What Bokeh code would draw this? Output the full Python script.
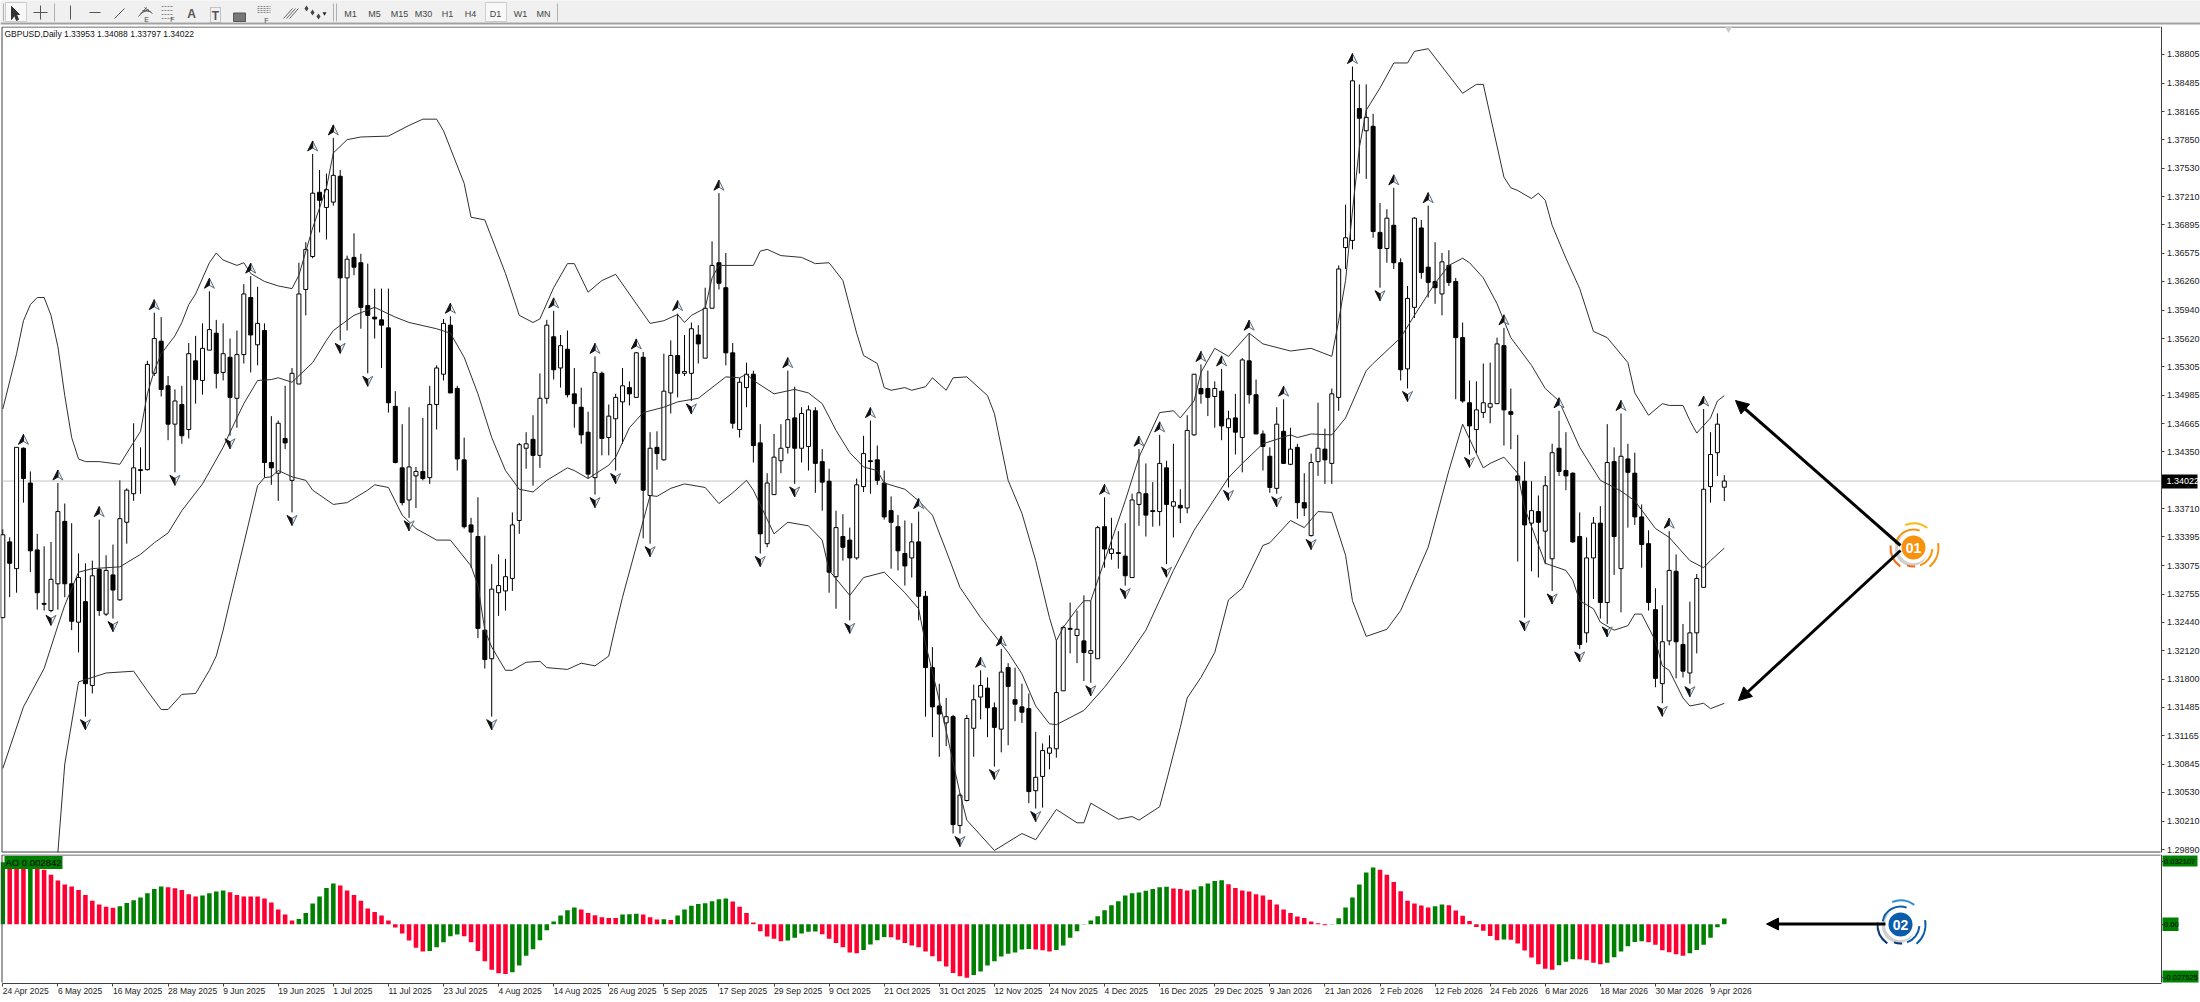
from bokeh.plotting import figure
from bokeh.layouts import column
from bokeh.embed import file_html
from bokeh.resources import INLINE
from bokeh.core.properties import value
from bokeh.models import (Range1d, FixedTicker, NumeralTickFormatter, LinearAxis, Label, Arrow, NormalHead, Div)

# ---------------- data: prices in pips above 1.30000, AO in pips ----------------
high_pips = [348,339,440,440,413,343,329,334,400,377,
355,321,310,313,359,319,331,403,394,467,
440,537,591,586,520,505,509,557,565,579,
615,583,579,562,571,623,632,620,579,475,
470,509,529,647,670,769,751,747,787,751,
655,680,657,646,618,618,618,503,466,485,
418,473,509,532,584,587,509,451,361,384,
341,309,320,315,367,445,457,476,523,583,
593,566,571,529,507,480,542,525,488,500,
529,514,547,547,457,458,545,560,590,566,
580,577,619,671,725,658,557,518,535,526,
466,411,455,466,526,508,485,487,485,438,
416,369,365,350,405,453,470,442,414,385,
364,358,355,368,279,216,175,159,140,52,
140,174,190,182,154,214,198,193,175,164,
121,108,117,223,240,266,257,274,268,352,
384,361,346,355,388,438,422,401,454,425,
444,393,476,522,533,526,514,528,481,500,
540,568,516,459,440,485,494,462,444,411,
433,490,461,506,644,712,867,847,847,814,
714,707,731,652,621,698,695,711,670,658,
661,630,580,515,514,534,535,563,574,506,
454,424,402,386,408,444,481,457,412,367,
339,362,374,466,440,478,444,434,376,347,
282,263,346,320,242,267,298,483,457,478,
408.8]
low_pips = [249,272,277,378,300,258,257,255,258,272,
235,210,138,164,251,251,248,268,332,380,
388,414,520,497,448,412,444,450,489,499,
549,506,515,453,462,534,524,532,406,398,
380,438,367,511,588,652,681,673,711,560,
571,633,573,523,562,529,479,422,375,361,
372,403,399,460,515,501,414,349,305,226,
192,138,251,257,279,343,416,397,417,489,
516,507,496,462,444,405,387,431,431,414,
444,487,496,338,332,415,425,478,496,520,
492,534,540,596,617,532,461,451,485,423,
321,328,387,411,433,399,423,414,389,369,
277,259,313,246,314,390,388,398,359,304,
302,285,294,246,138,115,93,105,7,7,
43,93,135,115,82,98,106,133,131,41,
35,36,79,92,167,209,198,178,176,203,
305,314,304,285,294,352,340,351,352,309,
339,355,366,453,489,475,462,448,395,432,
412,489,455,414,389,388,422,420,360,363,
340,408,399,399,481,640,662,747,741,675,
619,647,640,515,506,585,629,608,601,588,
621,494,490,432,433,473,467,489,442,438,
312,249,301,294,309,279,408,392,333,214,
221,270,248,242,297,255,350,353,305,257,
171,153,218,181,182,175,209,283,378,408,
379.7]
open_pips = [249,334,304,439,400,325,265,257,287,357,
287,244,267,173,303,253,297,269,356,388,
415,415,523,559,509,466,488,460,537,515,
549,568,524,541,495,544,608,555,571,423,
411,450,403,511,617,654,726,709,715,744,
630,653,647,599,586,583,574,486,417,381,
408,413,406,488,522,577,506,426,353,340,
235,203,277,279,293,358,439,449,431,495,
564,529,550,500,485,457,406,523,451,472,
491,507,496,541,386,440,426,501,543,523,
523,566,540,596,647,619,546,460,507,522,
445,332,387,425,440,473,439,441,481,424,
402,295,340,336,316,396,425,426,400,369,
351,321,316,334,273,193,150,131,138,16,
44,125,160,170,148,124,193,157,149,147,
55,71,97,102,167,237,229,223,209,203,
351,321,322,318,294,376,388,369,368,417,
374,375,372,454,506,506,497,503,462,473,
451,537,499,455,430,394,458,421,440,378,
341,424,438,422,496,664,672,820,795,800,
681,663,689,647,528,597,686,642,626,612,
644,626,563,490,460,479,485,489,554,480,
408,402,355,368,346,315,439,414,411,340,
232,316,355,266,424,304,427,411,362,332,
258,175,223,301,219,187,232,283,396,434,
395.3]
close_pips = [342,310,440,405,324,277,264,292,368,287,
245,294,175,296,257,302,280,360,392,417,
414,533,562,505,466,492,453,545,516,551,
572,523,545,496,544,612,566,579,423,417,
467,445,523,612,662,725,717,729,745,630,
651,642,597,588,584,577,490,423,378,418,
413,405,488,529,579,501,427,351,345,237,
202,281,285,295,353,443,444,431,495,577,
527,554,499,489,454,410,524,450,475,496,
509,500,546,392,439,433,503,543,523,525,
573,556,596,644,624,546,467,513,522,442,
343,400,429,439,471,439,478,482,422,401,
300,350,328,316,398,433,424,403,362,356,
324,307,334,273,193,149,141,138,17,50,
136,157,173,148,126,188,172,152,143,54,
70,100,103,165,238,236,236,210,212,350,
326,326,321,296,381,389,364,368,422,376,
379,372,459,522,500,496,506,464,472,457,
538,499,455,441,395,466,422,438,378,372,
423,439,426,500,640,675,851,809,810,682,
663,697,647,527,607,697,636,625,619,648,
625,563,492,464,482,490,489,556,482,477,
403,353,369,356,397,434,413,408,334,219,
316,355,266,423,340,430,412,362,331,266,
181,222,302,222,189,232,293,393,432,466,
402.2]

upper_band = [(0,483),(2,545),(3,582),(4,600),(5,608),(6,608),(7,588),(8,553),(9,498),(10,451),(11,427),(12,424),(14,424),(17,421),
(20,458),(21,500),(22,526),(23,545),(24,555),(25,565),(26,580),(27,600),(28,612),(30,647),(31,658),(32,650),(34,644),(35,647),(36,635),
(38,626),(40,621),(42,618),(43,633),(45,686),(47,731),(48,770),(50,785),(52,788),(56,789),(59,801),(61,808),(63,808),(64,795),(67,736),
(68,698),(70,695),(73,635),(75,588),(77,580),(78,584),(80,619),(82,646),(83,646),(85,614),(87,627),(89,634),(91,612),(94,579),(96,582),
(98,589),(99,580),(100,588),(102,596),(103,630),(104,644),(109,644),(110,660),(111,662),(113,655),(116,653),(118,646),(120,647),(122,627),
(124,568),(125,543),(127,534),(128,507),(129,504),(131,507),(132,504),(134,508),(135,518),(137,504),(138,518),(140,519),(143,498),(144,478),
(146,403),(148,366),(150,313),(152,249),(153,223),(154,238),(156,259),(157,268),(158,268),(160,313),(163,380),(165,429),(168,479),(170,481),
(171,473),(173,492),(174,524),(176,551),(178,542),(181,568),(183,556),(187,548),(190,551),(193,542),(194,582),(195,627),(196,705),(197,776),
(198,818),(200,843),(202,871),(204,871),(205,884),(207,887),(212,837),(214,847),(215,847),(218,743),(219,731),(220,728),(222,719),(223,725),
(224,717),(225,689),(227,652),(229,618),(231,570),(233,563),(236,535),(237,501),(239,476),(241,489),(242,487),(244,487),(245,470),(246,456),
(248,473),(249,492),(250,498)]
middle_band = [(0,80),(3,149),(6,192),(8,240),(9,263),(11,300),(13,304),(17,306),(20,320),(22,333),(24,344),(26,369),(29,399),(32,440),(33,457),
(35,489),(37,515),(39,516),(40,518),(42,513),(45,535),(47,560),(48,571),(51,588),(54,597),(57,586),(59,580),(63,573),(65,568),(67,541),
(69,500),(71,451),(73,414),(75,393),(77,390),(79,403),(82,417),(83,414),(85,405),(88,420),(89,429),(91,462),(93,479),(96,485),(98,491),
(101,495),(103,507),(105,519),(107,518),(108,522),(109,515),(112,500),(115,505),(117,501),(119,489),(121,459),(123,434),(125,418),(127,414),
(128,400),(131,393),(133,380),(135,364),(137,324),(139,283),(142,249),(146,210),(148,186),(150,150),(152,130),(153,129),(157,145),(160,171),
(163,201),(166,235),(170,302),(173,347),(178,406),(180,422),(183,444),(187,454),(188,451),(190,455),(193,454),(195,473),(198,526),(199,534),
(203,563),(205,588),(208,624),(210,644),(212,652),(213,647),(215,630),(217,601),(219,563),(222,532),(224,506),(226,492),(229,440),(232,403),
(235,391),(237,380),(240,349),(242,339),(245,313),(247,305),(248,313),(250,327)]
lower_band = [(8,-14),(9,85),(11,177),(15,187),(19,189),(21,167),(23,146),(24,146),(26,163),(28,164),(30,190),(31,206),(32,235),(33,268),
(35,332),(37,397),(38,406),(39,407),(40,414),(42,407),(44,403),(45,392),(48,376),(50,378),(53,392),(54,398),(56,395),(58,364),(60,349),
(63,336),(65,336),(68,307),(69,285),(70,235),(71,216),(73,190),(74,190),(76,199),(78,200),(79,193),(82,191),(84,198),(86,195),(88,206),
(89,240),(90,272),(94,386),(95,385),(97,394),(99,399),(102,395),(103,386),(104,377),(106,389),(108,403),(109,392),(112,343),(114,356),
(117,352),(119,336),(120,302),(123,274),(125,294),(128,300),(131,277),(133,259),(134,220),(136,156),(137,122),(139,52),(140,22),(144,-12),
(148,7),(150,0),(153,34),(156,19),(157,19),(158,41),(162,23),(164,26),(165,22),(168,37),(169,66),(171,126),(172,159),(174,182),(176,210),
(178,269),(180,282),(183,330),(184,333),(187,358),(189,350),(191,368),(193,367),(195,319),(196,268),(198,228),(201,236),(203,257),(207,328),
(210,414),(212,466),(214,433),(215,417),(216,422),(218,429),(220,411),(221,372),(224,310),(227,302),(228,291),(229,268),(231,259),(232,244),
(234,235),(236,240),(237,253),(238,253),(240,223),(241,195),(242,190),(244,159),(245,150),(247,153),(248,147),(250,153)]

ao_pips = [318,313,308,304,318,301,279,253,224,203,193,176,150,120,101,89,84,92,109,123,137,159,181,193,190,185,176,154,142,147,159,168,173,164,150,142,142,142,132,111,75,50,19,27,58,106,142,186,209,198,173,150,120,80,63,44,19,-17,-48,-84,-121,-140,-137,-118,-92,-62,-53,-62,-92,-137,-190,-233,-251,-255,-246,-212,-162,-128,-82,-31,14,44,72,86,75,58,46,36,32,32,50,51,53,50,36,24,26,21,44,75,94,103,108,118,128,132,
116,89,58,9,-36,-63,-74,-87,-84,-70,-48,-39,-38,-51,-75,-97,-118,-145,-149,-132,-104,-82,-65,-67,-80,-97,-109,-118,-140,-164,-190,-217,-250,-267,-274,-260,-243,-212,-190,-166,-152,-145,-130,-127,-130,-133,-140,-132,-109,-70,-36,-2,19,41,72,97,118,147,159,162,171,181,190,192,183,180,173,178,195,209,221,226,205,186,173,168,154,147,125,101,75,58,39,32,14,5,-5,-2,31,86,137,203,265,291,279,253,217,169,120,106,96,86,92,101,97,70,43,17,-14,-34,-60,-82,-79,-80,-99,-135,-171,-205,-229,-233,-210,-193,-180,-180,-185,-198,-205,-198,-169,-140,-113,-91,-87,-92,-106,-133,-144,-154,-162,-149,-132,-106,-70,-15,29]

up_fractals = [3,8,14,22,30,36,45,48,65,80,86,92,98,104,114,126,133,142,145,160,165,168,174,177,181,186,196,202,207,218,226,235,242,247]
down_fractals = [7,12,16,25,33,42,49,53,59,71,86,89,94,100,110,115,123,139,144,150,158,163,169,178,185,190,200,204,213,221,225,229,233,241,245]

date_labels = ["24 Apr 2025","6 May 2025","16 May 2025","28 May 2025","9 Jun 2025","19 Jun 2025","1 Jul 2025","11 Jul 2025","23 Jul 2025",
"4 Aug 2025","14 Aug 2025","26 Aug 2025","5 Sep 2025","17 Sep 2025","29 Sep 2025","9 Oct 2025","21 Oct 2025","31 Oct 2025","12 Nov 2025",
"24 Nov 2025","4 Dec 2025","16 Dec 2025","29 Dec 2025","9 Jan 2026","21 Jan 2026","2 Feb 2026","12 Feb 2026","24 Feb 2026","6 Mar 2026",
"18 Mar 2026","30 Mar 2026","9 Apr 2026"]
price_ticks = [1.38805,1.38485,1.38165,1.37850,1.37530,1.37210,1.36895,1.36575,1.36260,1.35940,1.35620,1.35305,1.34985,1.34665,1.34350,
1.33710,1.33395,1.33075,1.32755,1.32440,1.32120,1.31800,1.31485,1.31165,1.30845,1.30530,1.30210,1.29890]
last_price = 1.34022
ao_ticks = [0.032107, 0.0, -0.027525]
ao_tick_text = ["0.032107", "0.00", "-0.027525"]
header = "GBPUSD,Daily  1.33953 1.34088 1.33797 1.34022"
ao_label = "AO 0.002842"
timeframes = ["M1","M5","M15","M30","H1","H4","D1","W1","MN"]

# ---------------- scale helpers ----------------
BAR = 6.886          # px per bar
PXP = 0.00011213     # price per px, main pane
AOK = 1950.0         # px per AO unit
FONT = "Liberation Sans"
def P(p): return 1.3 + p / 10000.0
def bx(px): return (px - 2.3) / BAR                # page x -> bar index
def py(y): return 1.394105 - PXP * y               # page y -> price
def ay(y): return (923.7 - y) / AOK                # page y -> AO value

n = len(close_pips)
idx = list(range(n))
o = [P(v) for v in open_pips]; c = [P(v) for v in close_pips]
h = [P(v) for v in high_pips]; l = [P(v) for v in low_pips]

xr = (bx(0), bx(2200))

def style_axis(a):
    a.major_tick_out = 3; a.major_tick_in = 0; a.minor_tick_out = 0; a.minor_tick_in = 0
    a.axis_line_color = "#404040"; a.major_tick_line_color = "#404040"
    a.major_label_text_font = FONT; a.major_label_text_font_size = "9px"; a.major_label_text_color = "#222222"
    a.major_label_standoff = 3

main = figure(width=2200, height=828, x_range=Range1d(*xr), y_range=Range1d(py(854), py(26)),
              output_backend="svg", toolbar_location=None, tools="", x_axis_location=None, y_axis_location=None,
              min_border=0, outline_line_color=None, background_fill_color="white", border_fill_color="white")
main.grid.grid_line_color = None
ax = LinearAxis(fixed_location=bx(2160.5), ticker=FixedTicker(ticks=price_ticks), formatter=NumeralTickFormatter(format="0.00000"),
                bounds=(py(852), py(26)))
style_axis(ax)
main.add_layout(ax, "right")

# pane frame
main.segment([bx(1.5), bx(1.5), bx(1.5)], [py(26.5), py(851.5), py(26.5)], [bx(2160), bx(2160), bx(1.5)], [py(26.5), py(851.5), py(851.5)],
             line_color="#404040", line_width=1)
# last price line
main.segment([bx(2)], [last_price], [bx(2160)], [last_price], line_color="#c4c4c4", line_width=1)

# candles
main.segment(idx, l, idx, h, line_color="black", line_width=1)
wx = [i for i in idx if c[i] >= o[i]]
bk = [i for i in idx if c[i] < o[i]]
main.vbar(wx, top=[c[i] for i in wx], bottom=[o[i] for i in wx], width=0.58, fill_color="white", line_color="black", line_width=1)
main.vbar(bk, top=[o[i] for i in bk], bottom=[c[i] for i in bk], width=0.58, fill_color="black", line_color="black", line_width=1)

# bollinger bands
for band in (upper_band, middle_band, lower_band):
    main.line([b[0] for b in band], [P(b[1]) for b in band], line_color="#303030", line_width=1)

# fractal darts
def darts(bars, prices, sgn):
    lx, ly, rx, ry = [], [], [], []
    dx = 1 / BAR; dy = PXP
    for i, pr in zip(bars, prices):
        cy = pr + sgn * 8 * dy
        tip = (i, cy + sgn * 5 * dy); notch = (i, cy - sgn * 2 * dy)
        left = (i - 5 * dx, cy - sgn * 5 * dy); right = (i + 5 * dx, cy - sgn * 5 * dy)
        lx.append([tip[0], left[0], notch[0]]); ly.append([tip[1], left[1], notch[1]])
        rx.append([tip[0], notch[0], right[0]]); ry.append([tip[1], notch[1], right[1]])
    main.patches(rx, ry, fill_color="#eef2f6", line_color="#5a6a7a", line_width=1)
    main.patches(lx, ly, fill_color="#111111", line_color="#111111", line_width=1)
darts(up_fractals, [h[i] for i in up_fractals], 1)
darts(down_fractals, [l[i] for i in down_fractals], -1)

main.scatter([bx(1728)], [py(28.5)], marker="inverted_triangle", size=7, fill_color="#c8c8c8", line_color=None)

main.add_layout(Label(x=bx(4), y=py(33), text=header, text_font=FONT, text_font_size="8.5px",
                      text_baseline="middle", text_color="#111111"))
main.quad(left=[bx(2161.5)], right=[bx(2197)], top=[py(474)], bottom=[py(488)], fill_color="black", line_color=None)
main.text([bx(2166)], [last_price], text=["1.34022"], text_font=value(FONT), text_font_size="9px", text_color="white",
          text_baseline="middle", text_align="left")

# callouts
def badge(fig, x, y, yfun, col, dark, light, txt):
    cx, cy = bx(x), yfun(y)
    fig.scatter([bx(x - 2)], [yfun(y + 2)], size=33, fill_color="#d0d0d0", line_color=None)
    fig.scatter([cx], [cy], size=31, fill_color="white", line_color=None)
    fig.scatter([cx], [cy], size=24, fill_color=col, line_color=None)
    arcs = [(24, 55, 110, light), (18, 70, 170, col), (19, -70, -5, col), (25, -50, 10, col),
            (23, 175, 235, dark), (19, -110, -85, dark)]
    for r, a0, a1, cc in arcs:
        fig.arc([cx], [cy], radius=r, radius_units="screen", start_angle=a0, end_angle=a1,
                start_angle_units="deg", end_angle_units="deg", line_color=cc, line_width=2)
    fig.add_layout(Label(x=cx, y=cy, text=txt, text_color="white", text_font=FONT, text_font_size="14px",
                         text_font_style="bold", text_align="center", text_baseline="middle"))

head = lambda: NormalHead(size=13, fill_color="black", line_color="black")
main.add_layout(Arrow(end=head(), x_start=bx(1900), y_start=py(545), x_end=bx(1735), y_end=py(400), line_color="black", line_width=3))
main.add_layout(Arrow(end=head(), x_start=bx(1900), y_start=py(550), x_end=bx(1738), y_end=py(700), line_color="black", line_width=3))
badge(main, 1913, 547, py, "#f7920f", "#f26a1b", "#fdb913", "01")

# ---------------- AO pane ----------------
ao = figure(width=2200, height=145, x_range=Range1d(*xr), y_range=Range1d(ay(999), ay(854)),
            output_backend="svg", toolbar_location=None, tools="", x_axis_location=None, y_axis_location=None,
            min_border=0, outline_line_color=None, background_fill_color="white", border_fill_color="white")
ao.grid.grid_line_color = None
vals = [v / 10000.0 for v in ao_pips]
cols = ["#008000" if (i == 0 or vals[i] > vals[i - 1]) else "#ff0033" for i in idx]
ao.vbar(idx, top=vals, bottom=0, width=0.66, fill_color=cols, line_color=None)

ao.segment([bx(1.5), bx(1.5)], [ay(854.5), ay(854.5)], [bx(2160), bx(1.5)], [ay(854.5), ay(982)], line_color="#404040", line_width=1)
# value boxes behind the axis labels
tw = [35, 16, 36]
ao.quad(left=[bx(2162)] * 3, right=[bx(2162 + w) for w in tw],
        top=[ay(855), ay(917), ay(970)], bottom=[ay(866), ay(930.5), ay(982)], fill_color="#008000", line_color=None)
ya = LinearAxis(fixed_location=bx(2160.5), ticker=FixedTicker(ticks=ao_ticks), bounds=(ay(982), ay(854)),
                major_label_overrides=dict(zip(ao_ticks, ao_tick_text)))
style_axis(ya)
ya.major_label_text_color = "black"
ya.major_label_text_font_size = "7.5px"
ya.major_label_standoff = 0
ao.add_layout(ya, "right")

ao.add_layout(Label(x=bx(4), y=ay(862), text=ao_label, text_font=FONT, text_font_size="9.5px",
                    background_fill_color="#008000", text_color="black", text_baseline="middle", padding=1))

dates_at = [8 * k for k in range(len(date_labels))]
xa = LinearAxis(fixed_location=ay(982.5), ticker=FixedTicker(ticks=dates_at), bounds=(bx(1.5), bx(2160.5)))
style_axis(xa)
xa.major_label_text_color = None
ao.add_layout(xa, "below")
ao.text(dates_at, [ay(990.5)] * len(dates_at), text=date_labels, text_font=value(FONT), text_font_size="8.5px",
        text_color="#222222", text_baseline="middle", text_align="left")

ao.add_layout(Arrow(end=NormalHead(size=12, fill_color="black", line_color="black"), x_start=bx(1885), y_start=ay(923.5),
                    x_end=bx(1766), y_end=ay(923.5), line_color="black", line_width=3))
badge(ao, 1900, 924, ay, "#0b5cab", "#0a3a78", "#2f8fd6", "02")

# ---------------- terminal tool strip ----------------
bar = figure(width=2200, height=26, x_range=Range1d(0, 2200), y_range=Range1d(26, 0), output_backend="svg",
             toolbar_location=None, tools="", x_axis_location=None, y_axis_location=None, min_border=0,
             outline_line_color=None, background_fill_color="#f0f0f0", border_fill_color="#f0f0f0")
bar.grid.grid_line_color = None
bar.quad(left=[0], right=[2200], top=[22], bottom=[26], fill_color="white", line_color=None)
bar.segment([0], [23], [2200], [23], line_color="#a0a0a0", line_width=2)
bar.quad(left=[5, 485], right=[26, 506], top=[2, 2], bottom=[21, 21], fill_color="#f8f8f8", line_color="#cccccc")
for xs in (3, 54, 333, 336, 557):
    bar.segment([xs], [3], [xs], [21], line_color="#b0b0b0", line_width=1)
bar.patch([11, 11, 14, 16, 18, 16, 19], [6, 19, 15, 20, 19, 14, 14], fill_color="#333333", line_color="#333333")
bar.segment([33, 40, 70, 89, 114], [12, 5, 5, 12, 18], [47, 40, 70, 100, 124], [12, 19, 19, 12, 8], line_color="#555555", line_width=1)
for k in range(4):
    bar.segment([138 + k * 2], [16 - k * 3], [146 + k * 2], [7 + k * 2], line_color="#555555", line_width=1)
    bar.segment([161], [6 + k * 4], [173], [6 + k * 4], line_color="#888888", line_width=1, line_dash="2 1")
    bar.segment([257], [6 + k * 2], [270], [6 + k * 2], line_color="#888888", line_width=1, line_dash="2 1")
for k in range(3):
    bar.segment([283 + k * 3], [18], [292 + k * 3], [8], line_color="#666666", line_width=1)
bar.quad(left=[233], right=[245], top=[12.5], bottom=[21], fill_color="#777777", line_color="#555555")
bar.quad(left=[210], right=[220], top=[7], bottom=[22], fill_color=None, line_color="#999999", line_dash="1 1")
bar.scatter([306, 312, 318], [8, 12, 16], marker="diamond", size=6, fill_color="#444444", line_color=None)
bar.scatter([324], [13], marker="inverted_triangle", size=4, fill_color="#222222", line_color=None)
bar.text([191, 215], [13, 15], text=["A", "T"], text_font_size="12px", text_color="#555555", text_font=value(FONT),
         text_align="center", text_baseline="middle", text_font_style="bold")
bar.text([146, 172, 266], [19, 19, 20], text=["E", "F", "F"], text_font_size="7px", text_color="#444444",
         text_font=value(FONT), text_align="center", text_baseline="middle")
tf_x = [350, 374, 399, 423, 447, 470, 495, 520, 543]
bar.text(tf_x, [13] * 9, text=timeframes, text_font_size="9px", text_color="#444444",
         text_font=value(FONT), text_align="center", text_baseline="middle")

strip = Div(width=2200, height=3, styles={"background": "#f0f0f0"})

root = column(bar, main, ao, strip, spacing=0)
open("out.html", "w").write(file_html(root, INLINE))
